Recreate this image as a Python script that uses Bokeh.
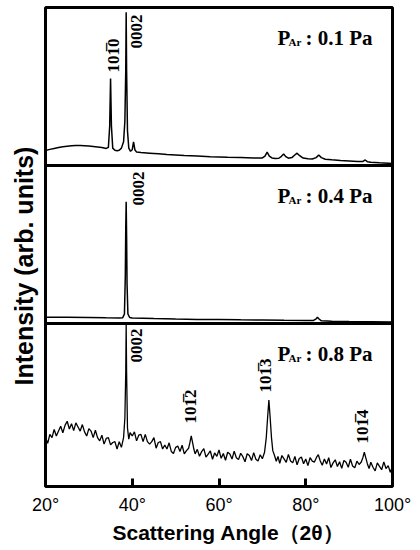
import numpy as np
from math import pi
from bokeh.plotting import figure
from bokeh.models import Range1d, FixedTicker, Span, Label, Title
from bokeh.embed import file_html
from bokeh.resources import INLINE

# ---------------- data (intensity in % of each panel's height) ----------------
p1_angle = [20, 21, 22, 23, 24, 25, 26, 27, 28, 29, 30, 31, 32, 33, 34, 34.5, 34.8, 35.0, 35.2, 35.5,
            36, 36.5, 37, 37.5, 38.0, 38.3, 38.5, 38.6, 38.7, 38.9, 39.2, 39.6, 40.0, 40.3, 40.6, 41,
            42, 44, 46, 48, 50, 52, 55, 58, 60, 62, 65, 68, 70, 70.6, 71.1, 71.6, 72.2, 73, 73.8, 74.4,
            74.9, 75.4, 76, 76.8, 77.4, 78.0, 78.6, 79.4, 80.5, 81.5, 82.4, 83.0, 83.6, 84.5, 86, 88,
            90, 92, 93.2, 93.7, 94.2, 95, 97, 100]
p1_int = [9.5, 10.2, 10.8, 11.4, 11.9, 12.2, 12.5, 12.7, 12.7, 12.5, 12.3, 12.0, 11.7, 11.4, 10.8, 11.5, 25, 55, 25, 11,
          9.6, 9.4, 9.7, 11, 15, 28, 60, 97, 60, 22, 11, 9, 10, 15, 10, 8.5,
          8.2, 7.8, 7.4, 7.0, 6.7, 6.4, 6.0, 5.6, 5.4, 5.2, 5.0, 4.8, 4.8, 6, 8.4, 6, 4.8, 4.4, 4.6, 5.8,
          7.3, 5.6, 4.6, 5, 6.5, 7.8, 6.2, 4.7, 4.3, 4.1, 5, 6.6, 5, 4.0, 3.6, 3.2,
          2.9, 2.5, 2.6, 3.5, 2.4, 2.0, 1.7, 1.3]

p2_angle = [20, 25, 30, 34, 37, 37.8, 38.2, 38.4, 38.5, 38.6, 38.7, 38.8, 39.0, 39.4, 40, 45, 50, 55,
            60, 65, 70, 75, 80, 81.8, 82.4, 82.7, 83.0, 83.6, 86, 90, 95, 100]
p2_int = [4.0, 4.0, 3.8, 3.6, 3.5, 3.7, 6, 30, 60, 77, 55, 25, 6, 3.8, 3.5, 3.1, 2.8, 2.6,
          2.5, 2.3, 2.2, 2.0, 1.9, 1.9, 3, 4, 3, 1.7, 1.5, 1.3, 1.1, 0.9]

p3_angle = [20.0, 20.5, 21.0, 21.5, 22.0, 22.5, 23.0, 23.5, 24.0, 24.5, 25.0, 25.5, 26.0, 26.5, 27.0, 27.5,
            28.0, 28.5, 29.0, 29.5, 30.0, 30.5, 31.0, 31.5, 32.0, 32.5, 33.0, 33.5, 34.0, 34.5, 35.0, 35.5,
            36.0, 36.5, 37.0, 37.5,
            38.0, 38.3, 38.5, 38.6, 38.7, 38.9, 39.2, 39.5,
            40.0, 40.5, 41.0, 41.5, 42.0, 42.5, 43.0, 43.5, 44.0, 44.5, 45.0, 45.5, 46.0, 46.5, 47.0, 47.5,
            48.0, 48.5, 49.0, 49.5, 50.0, 50.5, 51.0, 51.5, 52.0, 52.5, 53.0,
            53.3, 53.6, 53.9, 54.2,
            54.5, 55.0, 55.5, 56.0, 56.5, 57.0, 57.5, 58.0, 58.5, 59.0, 59.5, 60.0, 60.5, 61.0, 61.5, 62.0,
            62.5, 63.0, 63.5, 64.0, 64.5, 65.0, 65.5, 66.0, 66.5, 67.0, 67.5, 68.0, 68.5, 69.0, 69.5, 70.0, 70.5,
            70.9, 71.2, 71.5, 71.8, 72.1, 72.4, 72.8,
            73.2, 73.6, 74.0, 74.5, 75.0, 75.5, 76.0, 76.5, 77.0, 77.5, 78.0, 78.5, 79.0, 79.5, 80.0, 80.5,
            81.0, 81.5, 82.0, 82.5,
            82.9, 83.3,
            83.8, 84.3, 84.8, 85.3, 85.8, 86.3, 86.8, 87.3, 87.8, 88.3, 88.8, 89.3, 89.8, 90.3, 90.8, 91.3,
            91.8, 92.3,
            92.8, 93.2, 93.5, 93.8, 94.2,
            94.6, 95.0, 95.5, 96.0, 96.5, 97.0, 97.5, 98.0, 98.5, 99.0, 99.5, 100.0]
p3_int = [30, 26.5, 32, 30, 35, 31, 34, 37, 33, 37.5, 40, 35.3, 38.5, 34.3, 39, 36.5,
          34, 38, 33.5, 31, 35.5, 34, 30, 34.5, 30, 28, 31.5, 26, 29.5, 30, 25.5, 27,
          27.5, 23, 27.5, 24,
          30, 42, 70, 100, 70, 36, 29, 33,
          31, 33.5, 28, 31.5, 32, 27.5, 32, 27.5, 26, 27.5, 30, 23.5, 27, 27.5, 23, 25.5,
          23, 26.8, 21.5, 20.2, 24, 24.8, 21.5, 25.3, 20, 22, 23.5,
          27, 31, 27, 23,
          20, 22.8, 18.6, 21.4, 23.2, 18, 19.9, 21.8, 16.7, 20.6, 18.5, 22.4, 17.3, 20.2, 16.1, 21,
          19.9, 16.8, 21.7, 17.6, 16.5, 20.4, 18.3, 15.2, 20.1, 19, 15.9, 20.8, 16.7, 15.6, 19.5, 17, 21,
          30, 42, 53, 42, 30, 22, 19,
          15.5, 18.4, 14.2, 19, 16.9, 14.8, 19.7, 15.6, 14.5, 18.4, 13.3, 17.2, 18.1, 14, 16.9, 12.8,
          17.7, 15.6, 15, 18,
          19.5, 16,
          13, 16.9, 13.8, 17.7, 11.6, 14.5, 16.4, 12.3, 15.2, 11.1, 16, 14.9, 11.8, 16.7, 12.6, 11.5,
          15.5, 13.5,
          15, 18, 21, 18, 14,
          11, 14.9, 11.8, 9.6, 14.5, 12.4, 10.3, 15.1, 11, 12.8, 8.7, 12.5]

x_ticks = [20, 40, 60, 80, 100]
x_tick_labels = ["20°", "40°", "60°", "80°", "100°"]
panel_pressure = [": 0.1 Pa", ": 0.4 Pa", ": 0.8 Pa"]
bar1 = "1\u0305"
peak_texts = ["10" + bar1 + "0", "0002", "0002", "0002", "10" + bar1 + "2", "10" + bar1 + "3", "10" + bar1 + "4"]

# ---------------- layout helpers (page px -> data units) ----------------
W, H = 420, 550
BL, BR, BT, BB = 45, 28, 7, 64
FL, FR = BL, W - BR
FT, FB = BT, H - BB
X0, X1, Y0, Y1 = 20, 100, 0.0, 3.0

def xd(px):
    return X0 + (px - FL) / (FR - FL) * (X1 - X0)

def yd(py):
    return Y1 - (py - FT) / (FB - FT) * (Y1 - Y0)

sep1, sep2 = 165, 323                 # panel separators (px)
bands = [(yd(sep1), Y1), (yd(sep2), yd(sep1)), (Y0, yd(sep2))]
panel_top_px = [7, sep1, sep2]

p = figure(width=W, height=H, x_range=Range1d(X0, X1), y_range=Range1d(Y0, Y1),
           output_backend="svg", toolbar_location=None,
           min_border_left=BL, min_border_right=BR, min_border_top=BT, min_border_bottom=BB)
p.xgrid.visible = False
p.ygrid.visible = False
p.yaxis.visible = False
p.outline_line_color = "black"
p.outline_line_width = 3
p.background_fill_color = "white"
p.border_fill_color = "white"

ax = p.xaxis[0]
ax.ticker = FixedTicker(ticks=x_ticks)
ax.major_label_overrides = {t: l for t, l in zip(x_ticks, x_tick_labels)}
ax.axis_line_color = None
ax.major_tick_in = 8
ax.major_tick_out = 0
ax.major_tick_line_width = 3
ax.major_tick_line_color = "black"
ax.minor_tick_line_color = None
ax.major_label_standoff = 8
ax.major_label_text_font = "Liberation Sans"
ax.major_label_text_font_size = "18px"
ax.major_label_text_color = "black"

ylab = Title(text="Intensity (arb. units)", align="left", vertical_align="middle",
             offset=FB - 385, standoff=14, text_font="Liberation Sans", text_font_style="bold",
             text_font_size="25px", text_color="black")
p.add_layout(ylab, "left")
xlab = Title(text="Scattering Angle（2θ）", align="left", vertical_align="top",
             offset=112 - FL, standoff=6, text_font="Liberation Sans", text_font_style="bold",
             text_font_size="21px", text_color="black")
p.add_layout(xlab, "below")

series = [(p1_angle, p1_int, 1.5), (p2_angle, p2_int, 1.5), (p3_angle, p3_int, 1.3)]
for (ang, val, lw), (b0, b1) in zip(series, bands):
    y = b0 + np.array(val) / 100.0 * (b1 - b0)
    p.line(ang, y, line_color="black", line_width=lw)

for s in (sep1, sep2):
    p.add_layout(Span(location=yd(s), dimension="width", line_color="black", line_width=3))

serif = "Liberation Serif"
for i in range(3):
    base = panel_top_px[i] + 30
    p.add_layout(Label(x=xd(277), y=yd(base), text="P", text_font=serif, text_color="black",
                       text_font_style="bold", text_font_size="21px", text_baseline="alphabetic"))
    p.add_layout(Label(x=xd(288), y=yd(base + 4), text="Ar", text_font=serif, text_color="black",
                       text_font_style="bold", text_font_size="11px", text_baseline="alphabetic"))
    p.add_layout(Label(x=xd(305), y=yd(base), text=panel_pressure[i], text_font=serif, text_color="black",
                       text_font_style="bold", text_font_size="21px", text_baseline="alphabetic"))

peak_pos = [(113, 72), (136, 48), (138, 205), (136, 362), (190, 423), (265, 392), (362, 443)]
for txt, (cx, by) in zip(peak_texts, peak_pos):
    p.add_layout(Label(x=xd(cx), y=yd(by), text=txt, angle=pi / 2, text_font=serif, text_color="black",
                       text_font_style="bold", text_font_size="17px",
                       text_align="left", text_baseline="middle"))

open("out.html", "w").write(file_html(p, INLINE))
